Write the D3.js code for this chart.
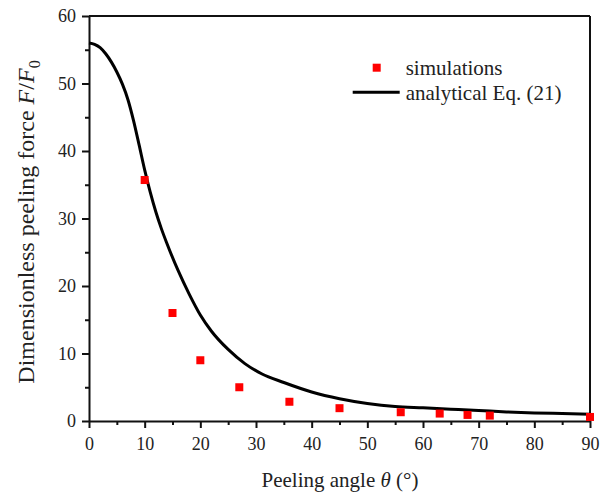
<!DOCTYPE html>
<html>
<head>
<meta charset="utf-8">
<script src="https://cdn.jsdelivr.net/npm/d3@7"></script>
<style>
  body { margin: 0; background: #fff; }
</style>
</head>
<body>
<div id="chart"></div>
<script>
// simulation points
var simAngles = [10, 15, 20, 27, 36, 45, 56, 63, 68, 72, 90];
var simForces = [35.7, 16.0, 9.0, 5.0, 2.85, 1.9, 1.3, 1.1, 0.9, 0.8, 0.6];

// analytical curve
var curveAngles = [0, 1, 2, 3, 4, 5, 6, 7, 8, 9, 10, 11, 12, 13, 14, 16, 18, 20, 22, 25, 28, 31, 35, 40, 45, 50, 55, 60, 65, 70, 75, 80, 85, 90];
var curveForces = [56, 55.8, 55.3, 54.4, 53.2, 51.7, 49.9, 47.6, 44.5, 40.9, 37.2, 33.9, 31.0, 28.5, 26.3, 22.3, 18.8, 15.7, 13.3, 10.6, 8.5, 7.0, 5.7, 4.3, 3.3, 2.6, 2.15, 1.95, 1.75, 1.55, 1.35, 1.2, 1.1, 1.0];

var xTicks = [0, 10, 20, 30, 40, 50, 60, 70, 80, 90];
var yTicks = [0, 10, 20, 30, 40, 50, 60];

var serif = "'Liberation Serif', 'Times New Roman', 'DejaVu Serif', serif";

var margin = { top: 16, right: 19, bottom: 73, left: 89 },
    width = 609 - margin.left - margin.right,
    height = 494 - margin.top - margin.bottom;

var svg = d3
    .select("#chart")
    .append("svg")
    .attr("width", 609)
    .attr("height", 494)
    .style("font-family", serif)
    .append("g")
    .attr("transform", "translate(" + margin.left + "," + margin.top + ")");

var x = d3.scaleLinear().domain([0, 90]).range([0, width]);
var y = d3.scaleLinear().domain([0, 60]).range([height, 0]);

// minor ticks
svg.append("g")
    .attr("transform", "translate(0," + height + ")")
    .call(d3.axisBottom(x).tickValues(d3.range(5, 90, 10)).tickSize(4).tickFormat(""))
    .call(function (g) { g.select(".domain").remove(); g.selectAll("line").attr("stroke-width", 2).attr("stroke", "#111"); });
svg.append("g")
    .call(d3.axisLeft(y).tickValues(d3.range(5, 60, 10)).tickSize(4).tickFormat(""))
    .call(function (g) { g.select(".domain").remove(); g.selectAll("line").attr("stroke-width", 2).attr("stroke", "#111"); });

// major axes
var xAxis = svg.append("g")
    .attr("transform", "translate(0," + height + ")")
    .call(d3.axisBottom(x).tickValues(xTicks).tickSize(7).tickPadding(6).tickSizeOuter(0));
var yAxis = svg.append("g")
    .call(d3.axisLeft(y).tickValues(yTicks).tickSize(7).tickPadding(6).tickSizeOuter(0));

[xAxis, yAxis].forEach(function (g) {
    g.attr("font-family", serif).attr("font-size", 18);
    g.select(".domain").attr("stroke-width", 2).attr("stroke", "#111");
    g.selectAll(".tick line").attr("stroke-width", 2).attr("stroke", "#111");
    g.selectAll(".tick text").attr("fill", "#222");
});
xAxis.selectAll(".tick text").attr("dy", "0.9em");

// top and right frame
svg.append("line").attr("x1", 0).attr("x2", width).attr("y1", 0).attr("y2", 0)
    .attr("stroke", "#111").attr("stroke-width", 2);
svg.append("line").attr("x1", width).attr("x2", width).attr("y1", 0).attr("y2", height)
    .attr("stroke", "#111").attr("stroke-width", 2);

// analytical curve
var line = d3.line()
    .x(function (d) { return x(d[0]); })
    .y(function (d) { return y(d[1]); })
    .curve(d3.curveMonotoneX);

svg.append("path")
    .datum(d3.zip(curveAngles, curveForces))
    .attr("d", line)
    .attr("fill", "none")
    .attr("stroke", "#000")
    .attr("stroke-width", 3);

// simulation markers
svg.append("g")
    .selectAll("rect")
    .data(d3.zip(simAngles, simForces))
    .enter()
    .append("rect")
    .attr("x", function (d) { return x(d[0]) - 4; })
    .attr("y", function (d) { return y(d[1]) - 4; })
    .attr("width", 8)
    .attr("height", 8)
    .attr("fill", "#f00");

// legend
var legend = svg.append("g")
    .attr("font-family", serif)
    .attr("font-size", 21)
    .attr("fill", "#222")
    .attr("transform", "translate(" + (376.7 - margin.left) + "," + (67.7 - margin.top) + ")");
legend.append("rect").attr("x", -4).attr("y", -4).attr("width", 8).attr("height", 8).attr("fill", "#f00");
legend.append("text").attr("x", 29).attr("y", 7).text("simulations");
legend.append("line").attr("x1", -24).attr("x2", 23).attr("y1", 24.6).attr("y2", 24.6)
    .attr("stroke", "#000").attr("stroke-width", 3);
legend.append("text").attr("x", 29).attr("y", 32).text("analytical Eq. (21)");

// axis titles
var xt = svg.append("text")
    .attr("x", 340 - margin.left)
    .attr("y", 487 - margin.top)
    .attr("text-anchor", "middle")
    .attr("font-family", serif)
    .attr("font-size", 21)
    .attr("fill", "#222");
xt.append("tspan").text("Peeling angle ");
xt.append("tspan").attr("font-style", "italic").text("θ");
xt.append("tspan").text(" (°)");

var yt = svg.append("text")
    .attr("transform", "translate(" + (34 - margin.left) + "," + (222 - margin.top) + ") rotate(-90)")
    .attr("text-anchor", "middle")
    .attr("font-family", serif)
    .attr("font-size", 24)
    .attr("fill", "#222");
yt.append("tspan").text("Dimensionless peeling force ");
yt.append("tspan").attr("font-style", "italic").text("F");
yt.append("tspan").text("/");
yt.append("tspan").attr("font-style", "italic").text("F");
yt.append("tspan").attr("dy", 6).attr("font-size", 16).text("0");
</script>
</body>
</html>
